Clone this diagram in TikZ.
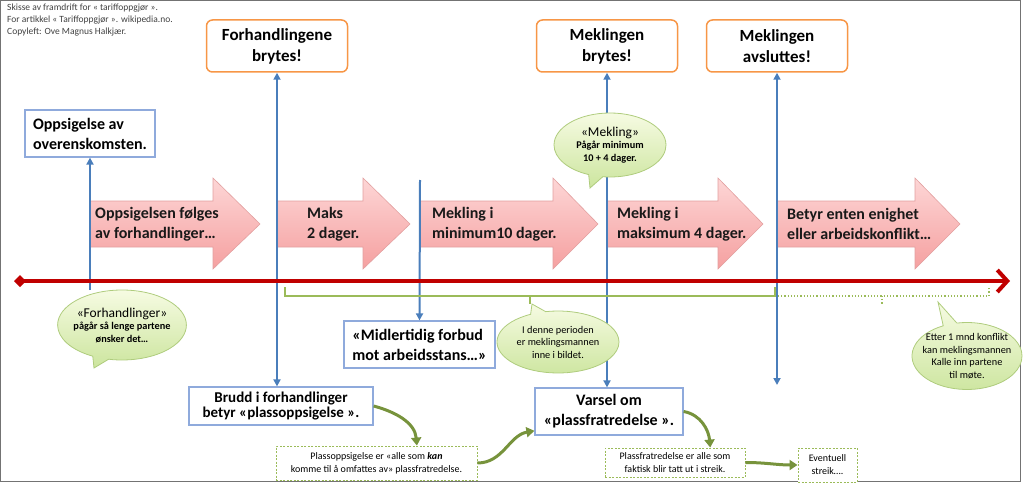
\documentclass[tikz,border=0pt]{standalone}
\usepackage{fontspec}
\setmainfont{Carlito}
\usepackage{tikz}
\usetikzlibrary{calc, arrows.meta, positioning, shapes.callouts}
\definecolor{lineRed}{RGB}{192,0,0}
\definecolor{lineBlue}{RGB}{74,126,187}
\definecolor{boxBlue}{RGB}{143,170,220}
\definecolor{boxOrange}{RGB}{247,150,70}
\definecolor{bubbleEdge}{RGB}{175,204,125}
\definecolor{bubbleTop}{RGB}{246,251,226}
\definecolor{bubbleBottom}{RGB}{204,229,158}
\definecolor{noteGreen}{RGB}{155,187,89}
\definecolor{linkGreen}{RGB}{119,147,60}
\definecolor{pinkTop}{RGB}{253,214,214}
\definecolor{pinkBottom}{RGB}{245,160,160}
\definecolor{pinkEdge}{RGB}{226,160,160}
\definecolor{frameGray}{gray}{0.45}

\begin{document}
\begin{tikzpicture}[x=1pt, y=-1pt,
    blueBox/.style={draw=boxBlue, line width=1.2pt, fill=white, inner sep=3pt,
        font=\fontsize{16}{20}\selectfont\bfseries},
    orangeBox/.style={draw=boxOrange, line width=1.5pt, rounded corners=6pt, fill=white,
        minimum width=141pt, minimum height=52pt, align=center,
        font=\fontsize{17}{21}\selectfont\bfseries},
    greenNote/.style={draw=noteGreen, dash pattern=on 2pt off 1.5pt, line width=0.9pt,
        fill=white, align=center, inner sep=2pt, font=\fontsize{10}{13}\selectfont},
    bubble/.style={ellipse callout, draw=bubbleEdge, line width=0.8pt, top color=bubbleTop,
        bottom color=bubbleBottom, align=center, inner sep=0pt,
        font=\fontsize{10.3}{12.5}\selectfont},
    pinkArrow/.style={draw=pinkEdge, line width=0.6pt, top color=pinkTop, bottom color=pinkBottom},
    arrowText/.style={anchor=west, align=left, inner sep=0pt, text=black!90,
        font=\fontsize{16}{20}\selectfont\bfseries},
    blueLink/.style={lineBlue, line width=2pt, -{Triangle[length=7pt,width=7pt]}},
    blueBoth/.style={blueLink, {Triangle[length=7pt,width=7pt]}-{Triangle[length=7pt,width=7pt]}},
    greenLink/.style={linkGreen, line width=3pt, -{Triangle[length=8pt,width=10pt]}}]

    \useasboundingbox (0,0) rectangle (1024,489);
    \draw[frameGray, line width=1pt] (0.5,0.5) rectangle (1020.5,481.5);

    % kilde
    \node[anchor=north west, align=left, inner sep=0pt, text=black!75,
        font=\fontsize{9.5}{12}\selectfont] (info) at (7,4)
        {Skisse av framdrift for « tariffoppgjør ».\\
         For artikkel « Tariffoppgjør ». wikipedia.no.\\
         Copyleft: Ove Magnus Halkjær.};

    % hendelser over tidslinjen
    \node[orangeBox] (fb) at (277,46) {Forhandlingene\\brytes!};
    \node[orangeBox] (mb) at (607,46) {Meklingen\\brytes!};
    \node[orangeBox] (ab) at (777,46) {Meklingen\\avsluttes!};
    \node[blueBox, align=left, minimum width=130pt, minimum height=47pt] (ob) at (90,133.5)
        {Oppsigelse av\\overenskomsten.};

    % faser (rosa piler)
    \foreach \xa/\xh/\xt/\xl/\txt [count=\i] in {
        90/213/260/95/{Oppsigelsen følges\\av forhandlinger…},
        277/363/410/307/{Maks\\2 dager.},
        420/553/598/432/{Mekling i\\minimum10 dager.},
        607/718/763/617/{Mekling i\\maksimum 4 dager.},
        777/915/960/787/{Betyr enten enighet\\eller arbeidskonflikt…}}
    {
        \draw[pinkArrow] (\xa,201) -- (\xh,201) -- (\xh,178) -- (\xt,224)
            -- (\xh,269) -- (\xh,247) -- (\xa,247) -- cycle;
        \node[arrowText] (fase\i) at (\xl,224) {\txt};
    }

    % hendelser under tidslinjen
    \node[blueBox, align=left, minimum width=151pt, minimum height=47pt] (mf) at (419.5,344.5)
        {«Midlertidig forbud\\mot arbeidsstans…»};
    \node[blueBox, align=center, minimum width=184pt, minimum height=38pt,
        font=\fontsize{15}{15}\selectfont\bfseries] (bb) at (281,406)
        {Brudd i forhandlinger\\betyr «plassoppsigelse ».};
    \node[blueBox, align=center, minimum width=148pt, minimum height=47pt] (vb) at (609,411.5)
        {Varsel om\\«plassfratredelse ».};

    \node[greenNote, minimum width=201pt, minimum height=34pt] (pa) at (376.5,463)
        {Plassoppsigelse er «alle som \textbf{\textit{kan}}\\komme til å omfattes av» plassfratredelse.};
    \node[greenNote, minimum width=140pt, minimum height=29pt] (pb) at (675,462.5)
        {Plassfratredelse er alle som\\faktisk blir tatt ut i streik.};
    \node[greenNote, minimum width=59pt, minimum height=34pt] (pc) at (827.5,465)
        {Eventuell\\streik….};

    % loddrette linjer
    \coordinate (b1) at (90,290);
    \coordinate (b3) at (420,180);
    \coordinate (b5) at (777,385);
    \draw[blueLink] (b1) -- (ob.south);
    \draw[blueBoth] (fb.south) -- (fb.south |- bb.north);
    \draw[blueLink] (b3) -- (mf.north);
    \draw[blueBoth] (mb.south) -- (mb.south |- vb.north);
    \draw[blueBoth] (ab.south) -- (b5);

    % tidslinjen
    \coordinate (t0) at (14,281);
    \coordinate (t1) at (1010,281);
    \draw[lineRed, line width=4pt,
        {Diamond[length=12pt,width=12pt]}-{Straight Barb[length=10pt,width=22pt]}] (t0) -- (t1);

    % perioder
    \draw[noteGreen, line width=1.2pt] (285,287) -- (285,296) -- (775,296) -- (775,287);
    \draw[noteGreen, line width=1.2pt] (530,296) -- (530,304);
    \draw[noteGreen, line width=1.2pt, dotted] (778,296) -- (989,296) -- (989,287);
    \draw[noteGreen, line width=1.2pt, dotted] (882,296) -- (882,305);

    % snakkebobler
    \node[bubble, inner xsep=-3pt, minimum height=70pt, callout absolute pointer={(94,368)}]
        (forh) at (122,325)
        {{\fontsize{13.5}{15}\selectfont «Forhandlinger»}\\\textbf{pågår så lenge partene}\\\textbf{ønsker det…}};
    \node[bubble, minimum width=112pt, minimum height=64pt, callout absolute pointer={(590,188)}]
        (mekl) at (610,145)
        {{\fontsize{13.5}{15}\selectfont «Mekling»}\\\textbf{Pågår minimum}\\\textbf{10 + 4 dager.}};
    \node[bubble, minimum width=122pt, minimum height=62pt, callout absolute pointer={(532,304)}]
        (periode) at (558,342) {I denne perioden\\er meklingsmannen\\inne i bildet.};
    \node[bubble, inner xsep=-10pt, inner ysep=-2pt, minimum width=110pt, minimum height=67pt,
        callout absolute pointer={(938,302)}]
        (etter) at (967,356) {Etter 1 mnd konflikt\\kan meklingsmannen\\Kalle inn partene\\til møte.};

    % grønne piler
    \draw[greenLink] (bb.east) to[out=-15,in=95] ($(pa.north)!0.4!(pa.north east)$);
    \draw[greenLink] (pa.east) to[out=0,in=190] ($(vb.south west)!0.1!(vb.north west)$);
    \draw[greenLink] (vb.east) to[out=-10,in=95] ($(pb.north)!0.5!(pb.north east)$);
    \draw[greenLink] (pb.east) to[out=0,in=180] (pc.west);
\end{tikzpicture}
\end{document}
